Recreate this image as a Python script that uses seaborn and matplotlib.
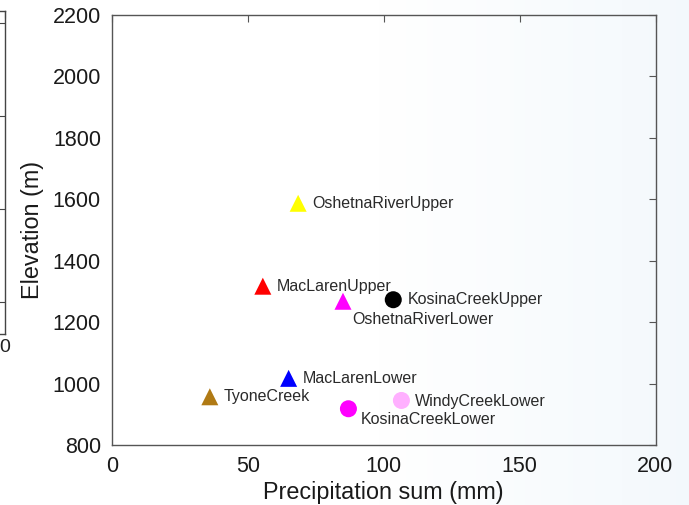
import matplotlib
matplotlib.use("Agg")
import matplotlib.pyplot as plt
import seaborn as sns
import pandas as pd
import numpy as np

# ---- data ----
sites = ["OshetnaRiverUpper", "MacLarenUpper", "OshetnaRiverLower", "KosinaCreekUpper",
         "MacLarenLower", "TyoneCreek", "KosinaCreekLower", "WindyCreekLower"]
precip_mm = [68.5, 55.5, 85.0, 103.5, 65.0, 36.0, 87.0, 106.5]
elevation_m = [1587, 1317, 1268, 1273, 1017, 957, 918, 945]
shapes = ["tri", "tri", "tri", "circ", "tri", "tri", "circ", "circ"]
x_ticks = [0, 50, 100, 150, 200]
y_ticks = [800, 1000, 1200, 1400, 1600, 1800, 2000, 2200]

# ---- styles ----
colors = {"OshetnaRiverUpper": "#ffff00", "MacLarenUpper": "#ff0000",
          "OshetnaRiverLower": "#ff00ff", "KosinaCreekUpper": "#000000",
          "MacLarenLower": "#0000ff", "TyoneCreek": "#b07a14",
          "KosinaCreekLower": "#ff00ff", "WindyCreekLower": "#ffb0ff"}
marker_map = {"tri": "^", "circ": "o"}
label_offsets = [(14, 0), (14, 0), (9, -18), (14, 0), (14, 0), (14, 0), (12, -11), (14, -1)]

df = pd.DataFrame({"site": sites, "precip": precip_mm, "elev": elevation_m, "shape": shapes})

sns.set_style("white")
plt.rcParams["font.family"] = ["Liberation Sans", "DejaVu Sans"]

fig = plt.figure(figsize=(6.89, 5.05), dpi=100)
fig.patch.set_facecolor("white")

# faint bluish tint towards the right edge (screen background)
grad = np.linspace(0, 1, 689)
grad = np.clip((grad - 0.55) / 0.45, 0, 1)[None, :].repeat(505, axis=0)
base = np.array([1.0, 1.0, 1.0])
tint = np.array([0.955, 0.975, 0.99])
img = base[None, None, :] * (1 - grad[..., None]) + tint[None, None, :] * grad[..., None]
fig.figimage(img, xo=0, yo=0, zorder=-10)

# partially visible neighbouring panel at the left edge
axl = fig.add_axes([(5 - 480) / 689, 1 - 334 / 505, 480 / 689, 323 / 505])
axl.set_xlim(-1, 0)
axl.set_ylim(0, 323)
axl.set_xticks([0])
axl.set_xticklabels(["0"])
axl.set_yticks([32, 125, 218, 311])
axl.set_yticklabels([])
axl.tick_params(axis="both", direction="in", length=5, color="#444", labelsize=14,
                right=True, top=True, labelcolor="#222")
for s in axl.spines.values():
    s.set_color("#444")
    s.set_linewidth(1.0)
axl.set_facecolor("none")

ax = fig.add_axes([112 / 689, 1 - 445 / 505, (655.5 - 112) / 689, (445 - 15) / 505])
ax.set_facecolor("none")
sns.scatterplot(data=df, x="precip", y="elev", hue="site", palette=colors,
                style="shape", markers=marker_map, s=150, edgecolor="none",
                legend=False, ax=ax)

for i, name in enumerate(sites):
    dx, dy = label_offsets[i]
    ax.annotate(name, (precip_mm[i], elevation_m[i]), xytext=(dx, dy),
                textcoords="offset pixels", ha="left", va="center",
                fontsize=11.5, color="#2a2a2a")

ax.set_xlim(x_ticks[0], x_ticks[-1])
ax.set_ylim(y_ticks[0], y_ticks[-1])
ax.set_xticks(x_ticks)
ax.set_yticks(y_ticks)
ax.set_xlabel("Precipitation sum (mm)", fontsize=16.8, color="#1a1a1a", labelpad=3)
ax.set_ylabel("Elevation (m)", fontsize=16.8, color="#1a1a1a", labelpad=6)
ax.tick_params(axis="both", direction="in", length=5, color="#555", labelsize=15.5,
               labelcolor="#1a1a1a", top=True, right=True, pad=8)
for s in ax.spines.values():
    s.set_color("#555")
    s.set_linewidth(1.0)

fig.savefig("out.png", dpi=100)
